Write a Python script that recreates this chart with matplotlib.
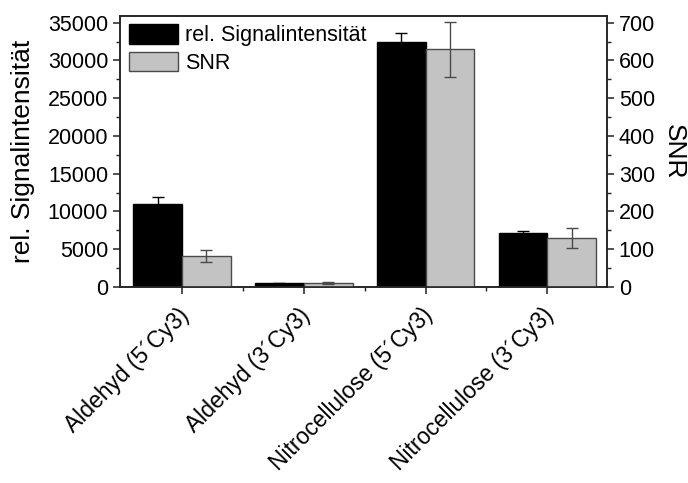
import matplotlib
matplotlib.use("Agg")
import matplotlib.pyplot as plt
import matplotlib.transforms as mtransforms
import numpy as np
from matplotlib.ticker import MultipleLocator, FixedLocator
from matplotlib.patches import Patch

plt.rcParams['font.family'] = ['Liberation Sans', 'DejaVu Sans']

categories = ["Aldehyd (5´Cy3)", "Aldehyd (3´Cy3)",
              "Nitrocellulose (5´Cy3)", "Nitrocellulose (3´Cy3)"]
signal = [11000, 500, 32500, 7100]
signal_err = [900, 60, 1100, 300]
snr = [82, 10, 630, 130]
snr_err = [15, 3, 73, 27]

fig = plt.figure(figsize=(6.88, 4.83), dpi=100)
ax = fig.add_axes([0.1744, 0.4058, 0.7078, 0.5617])
ax2 = ax.twinx()

x = np.arange(len(categories))
w = 0.4

ax.bar(x - w / 2, signal, width=w, color='black', edgecolor='black',
       linewidth=1.0, zorder=2)
ax.errorbar(x - w / 2, signal, yerr=signal_err, fmt='none', ecolor='black',
            elinewidth=1.0, capsize=4.5, capthick=1.0, zorder=3)

ax2.bar(x + w / 2, snr, width=w, color='#c3c3c3', edgecolor='#4a4a4a',
        linewidth=1.0, zorder=2)
ax2.errorbar(x + w / 2, snr, yerr=snr_err, fmt='none', ecolor='#4a4a4a',
             elinewidth=1.0, capsize=4.5, capthick=1.0, zorder=3)

ax.set_xlim(-0.51, 3.49)
ax.set_ylim(0, 35930)
ax2.set_ylim(0, 718.6)

ax.yaxis.set_major_locator(MultipleLocator(5000))
ax.yaxis.set_minor_locator(MultipleLocator(2500))
ax2.yaxis.set_major_locator(MultipleLocator(100))
ax2.yaxis.set_minor_locator(MultipleLocator(50))

ax.set_xticks(x)
ax.xaxis.set_minor_locator(FixedLocator(x[:-1] + 0.5))

for a in (ax, ax2):
    for s in a.spines.values():
        s.set_linewidth(1.1)
        s.set_color('#222222')
    a.tick_params(which='major', direction='out', length=5, width=1.1,
                  color='#222222')
    a.tick_params(which='minor', direction='out', length=3, width=1.0,
                  color='#222222')
    a.tick_params(axis='y', labelsize=15.5)
ax2.tick_params(axis='x', which='both', bottom=False, top=False)
ax.tick_params(axis='x', which='both', top=False)
ax.tick_params(axis='x', which='major', pad=7)

ax.set_xticklabels(categories, rotation=45, ha='right', va='top',
                   rotation_mode='anchor', fontsize=16.5)
# nudge the slanted category labels slightly to the left
shift = mtransforms.ScaledTranslation(-5 / 100, 0, fig.dpi_scale_trans)
for lbl in ax.get_xticklabels():
    lbl.set_transform(lbl.get_transform() + shift)

ax.set_ylabel("rel. Signalintensität", fontsize=19, labelpad=9)
ax2.set_ylabel("SNR", fontsize=19, rotation=270, labelpad=22)

handles = [Patch(facecolor='black', edgecolor='black'),
           Patch(facecolor='#c3c3c3', edgecolor='#4a4a4a')]
ax2.legend(handles, ["rel. Signalintensität", "SNR"], loc='upper left',
           frameon=False, fontsize=15.5, handlelength=2.3, handleheight=1.0,
           handletextpad=0.3, labelspacing=0.25, borderaxespad=0.2,
           borderpad=0.2)

fig.savefig("out.png", dpi=100)
